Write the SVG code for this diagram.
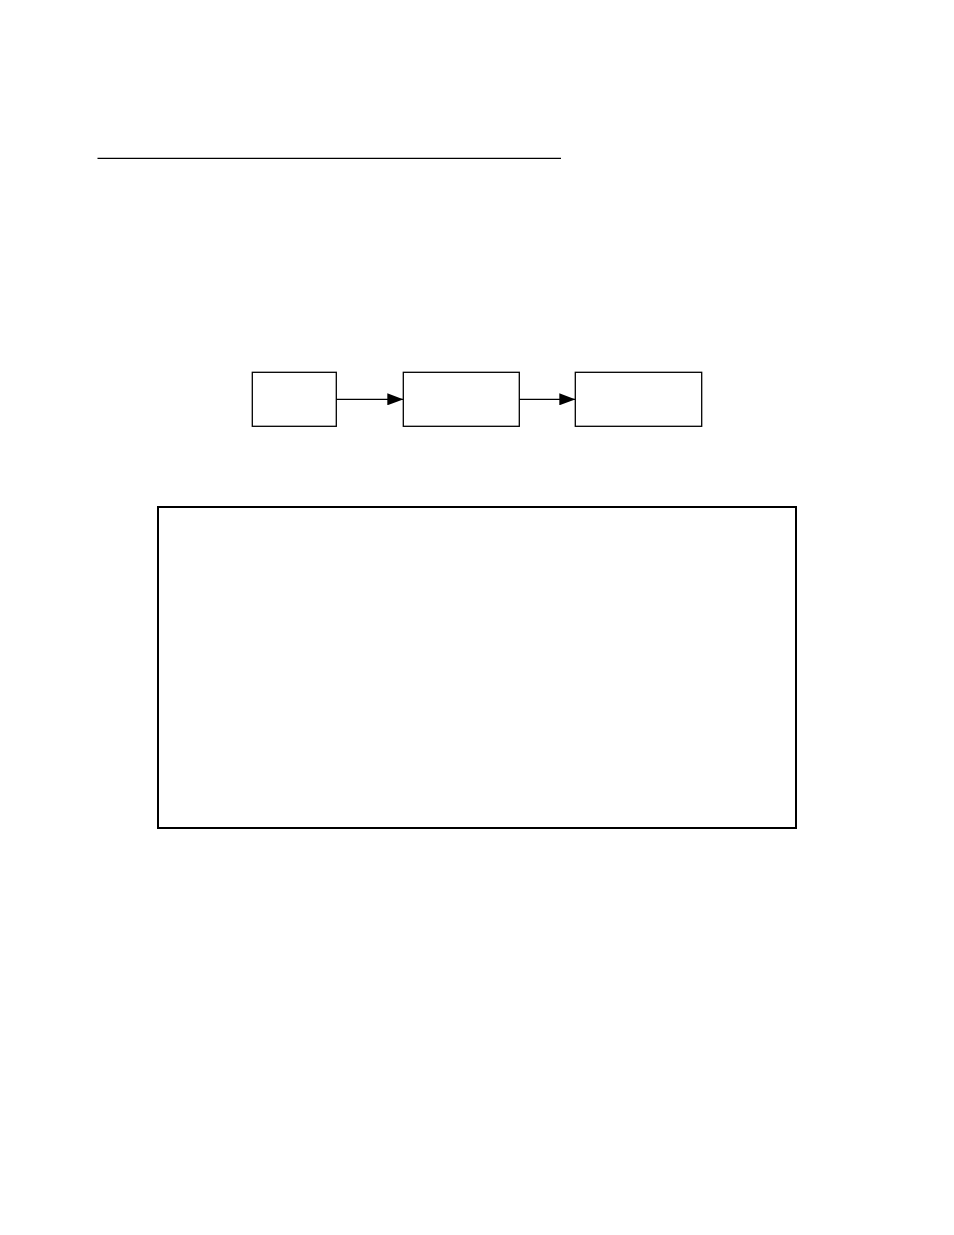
<svg xmlns="http://www.w3.org/2000/svg" width="954" height="1235" viewBox="0 0 954 1235">
<style>
.node{fill:#fff;stroke:#000;stroke-width:1.3}
.edge{stroke:#000;stroke-width:1.3;fill:none}
</style>
<defs>
<marker id="arr" markerUnits="userSpaceOnUse" markerWidth="16" markerHeight="12" refX="16" refY="6" orient="auto">
<path d="M0,0 L16,6 L0,12 Z" fill="#000"/>
</marker>
</defs>
<rect width="954" height="1235" fill="#fff"/>
<line x1="97.5" y1="158.3" x2="561" y2="158.3" stroke="#000" stroke-width="1.3"/>
<g id="node1"><rect class="node" x="252.3" y="372.3" width="84" height="54"/></g>
<g id="node2"><rect class="node" x="403.3" y="372.3" width="116" height="54"/></g>
<g id="node3"><rect class="node" x="575.3" y="372.3" width="126.4" height="54"/></g>
<g id="connectors">
<line class="edge" x1="336.3" y1="399.3" x2="403.3" y2="399.3" marker-end="url(#arr)"/>
<line class="edge" x1="519.3" y1="399.3" x2="575.3" y2="399.3" marker-end="url(#arr)"/>
</g>
<g id="panel"><rect x="158" y="507" width="638" height="321" fill="none" stroke="#000" stroke-width="2"/></g>
</svg>
